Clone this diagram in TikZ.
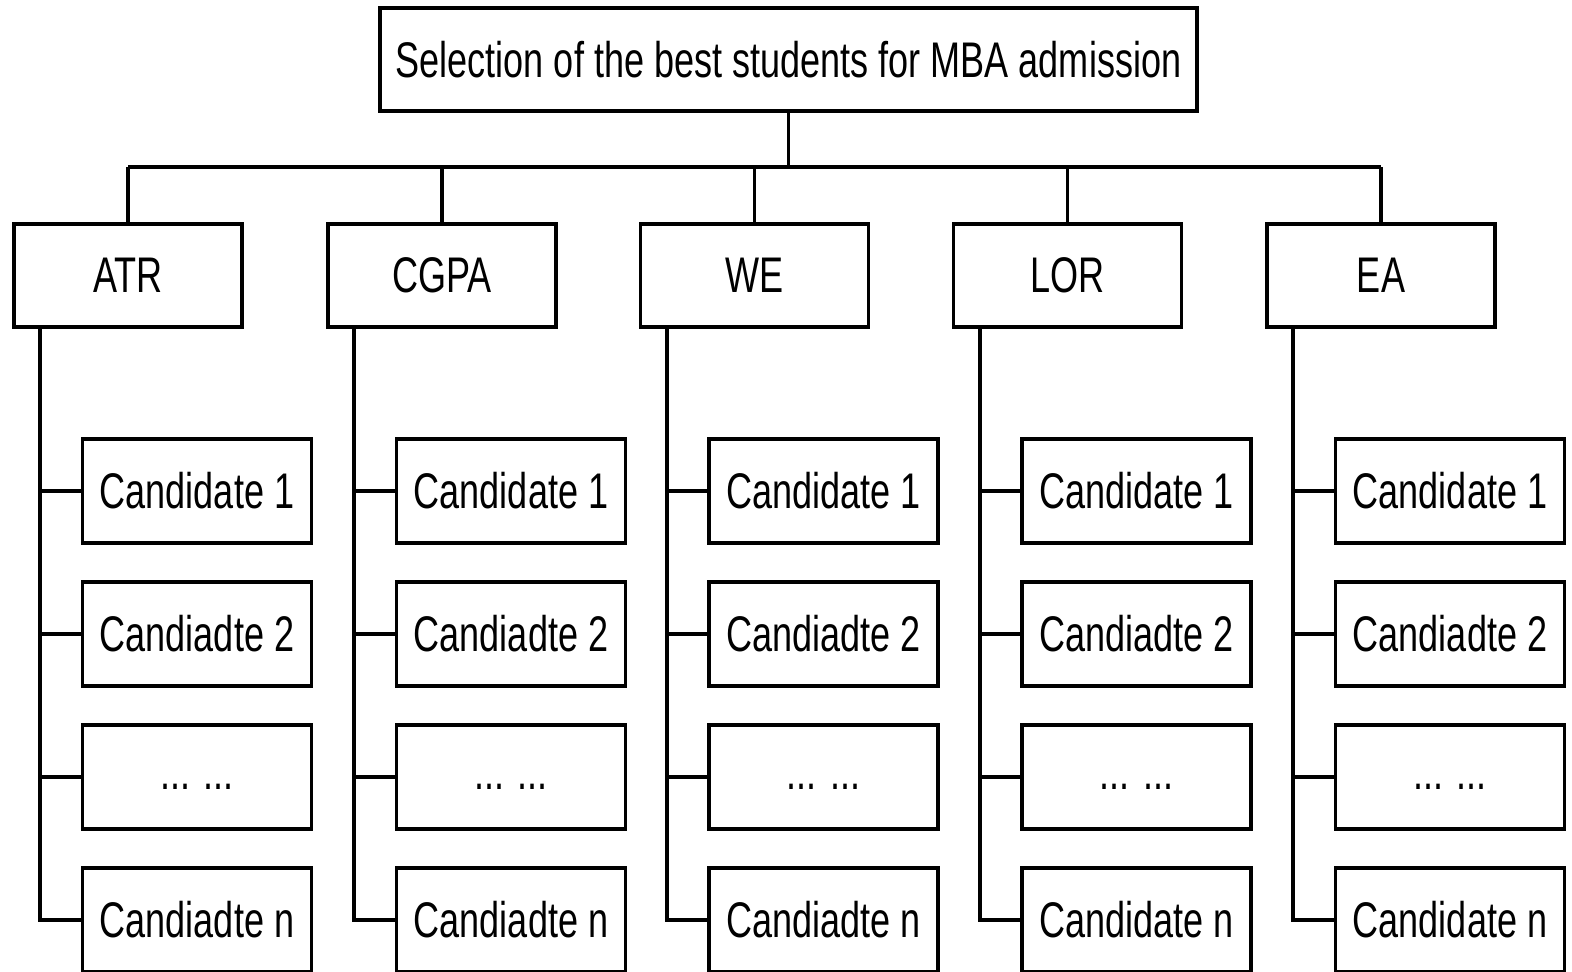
\documentclass[tikz,border=0pt]{standalone}
\usepackage{fontspec}
\setmainfont[FakeStretch=0.72]{Liberation Sans}
\usepackage{tikz}
\usetikzlibrary{calc}

\begin{document}
\begin{tikzpicture}[x=0.02cm, y=-0.02cm, font=\fontsize{28.5pt}{34pt}\selectfont]
        % ================= 样式定义 =================
        \tikzset{
            % 顶部目标框
            topbox/.style={draw=black, line width=2.2pt, fill=white, inner sep=0pt, minimum width=16.34cm, minimum height=2.06cm},
            % 准则框
            catbox/.style={draw=black, line width=2.2pt, fill=white, inner sep=0pt, minimum width=4.56cm, minimum height=2.06cm},
            % 候选人框
            candbox/.style={draw=black, line width=2.2pt, fill=white, inner sep=0pt, minimum width=4.58cm, minimum height=2.08cm},
            % 省略号框
            dotsbox/.style={candbox, text height=14pt, text depth=0pt},
            % 连线
            link/.style={line width=2.2pt, black}
        }
        \useasboundingbox (0,0) rectangle (1572,972);

        % ================= 1. 顶部目标 =================
        \node[topbox] (top) at (788.5,59.5) {Selection of the best students for MBA admission};
        \coordinate (bus) at (788.5,167);
        \draw[link] (top.south) -- (bus);

        % ================= 2. 各准则及其候选人 =================
        \foreach \cx/\cat/\nm/\lastlbl in {128/ATR/atr/Candiadte n, 442/CGPA/cgpa/Candiadte n, 754.5/WE/we/Candiadte n, 1067.5/LOR/lor/Candidate n, 1381/EA/ea/Candidate n}{
            \node[catbox] (\nm) at (\cx,275.5) {\cat};
            \draw[link] (\nm.north) -- (\nm.north |- bus);

            \node[candbox] (\nm-1) at (\cx+69,491) {Candidate 1};
            \node[candbox] (\nm-2) at (\cx+69,634) {Candiadte 2};
            \node[dotsbox] (\nm-3) at (\cx+69,777) {... ...};
            \node[candbox] (\nm-4) at (\cx+69,920) {\lastlbl};

            % --- 竖直主干 ---
            \coordinate (\nm-t) at ([xshift=0.56cm]\nm.south west);
            \draw[link] (\nm-t) |- (\nm-4.west);
            \foreach \j in {1,2,3}
                \draw[link] (\nm-\j.west) -- (\nm-\j.west -| \nm-t);
        }

        % ================= 3. 水平总线 =================
        \draw[link] (atr.north |- bus) -- (ea.north |- bus);

    \end{tikzpicture}
\end{document}
